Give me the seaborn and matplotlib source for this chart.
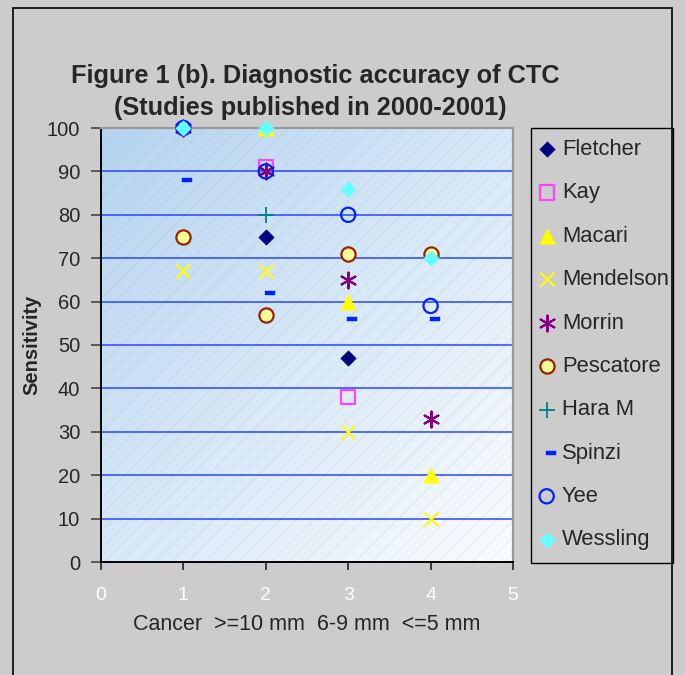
import numpy as np
import pandas as pd
import matplotlib
matplotlib.use("Agg")
import matplotlib.pyplot as plt
import seaborn as sns
from matplotlib.path import Path
from matplotlib.patches import Rectangle

# data (x = size category)
x_pos = [1, 2, 3, 4]
studies = ["Fletcher", "Kay", "Macari", "Mendelson", "Morrin",
           "Pescatore", "Hara M", "Spinzi", "Yee", "Wessling"]
fletcher = [None, 75, 47, None]
kay = [None, 91, 38, None]
macari = [None, 100, 60, 20]
mendelson = [67, 67, 30, 10]
morrin = [100, 90, 65, 33]
pescatore = [75, 57, 71, 71]
hara_m = [None, 80, None, None]
spinzi = [88, 62, 56, 56]
yee = [100, 90, 80, 59]
wessling = [100, 100, 86, 70]
values = [fletcher, kay, macari, mendelson, morrin,
          pescatore, hara_m, spinzi, yee, wessling]

rows = []
for name, vals in zip(studies, values):
    for xv, yv in zip(x_pos, vals):
        if yv is not None:
            rows.append({"study": name, "x": xv, "y": yv})
df = pd.DataFrame(rows)

# Excel-like dash marker (sits a bit right of the point)
dash = Path([(-0.1, -0.22), (0.9, -0.22), (0.9, 0.22), (-0.1, 0.22), (-0.1, -0.22)],
            [Path.MOVETO, Path.LINETO, Path.LINETO, Path.LINETO, Path.CLOSEPOLY])

# marker, size, face, edge, linewidth
styles = {
    "Fletcher": ("D", 60, "#000080", "#000080", 0.5),
    "Kay": ("s", 105, "none", "#ff44ff", 1.6),
    "Macari": ("^", 120, "#ffff00", "#ffff00", 0.5),
    "Mendelson": ("x", 105, None, "#ffff00", 1.5),
    "Morrin": ((6, 2, 0), 130, None, "#800080", 1.5),
    "Pescatore": ("o", 105, "#ffff99", "#992200", 1.6),
    "Hara M": ("+", 130, None, "#008080", 1.3),
    "Spinzi": (dash, 180, "#0022ff", "#0022ff", 0.3),
    "Yee": ("o", 105, "none", "#0022ff", 1.6),
    "Wessling": ("D", 60, "#66ffff", "#66ffff", 0.5),
}

sns.set_style("white")
plt.rcParams["font.family"] = ["Liberation Sans", "DejaVu Sans"]
plt.rcParams["hatch.linewidth"] = 0.6

bg = "#cccccc"
fig = plt.figure(figsize=(6.85, 6.75), dpi=100, facecolor=bg)
ax = fig.add_axes([101 / 685, 1 - 562 / 675, 412 / 685, 434 / 675])

# gradient background of the plot area
gx, gy = np.meshgrid(np.linspace(0, 1, 200), np.linspace(1, 0, 200))
t = np.clip((gx + (1 - gy)) / 2, 0, 1)
c0 = np.array([0.71, 0.83, 0.94])
c1 = np.array([0.98, 0.99, 1.0])
img = c0[None, None, :] * (1 - t[..., None]) + c1[None, None, :] * t[..., None]
ax.imshow(img, extent=[0, 1, 0, 1], transform=ax.transAxes, aspect="auto", zorder=0)
ax.add_patch(Rectangle((0, 0), 1, 1, transform=ax.transAxes, fill=False, lw=0,
                       hatch="//", edgecolor=(0.55, 0.6, 0.7, 0.18), zorder=0.5))

for yv in range(10, 100, 10):
    ax.axhline(yv, color="#2a45ff", lw=1.1, zorder=1)

for name in studies:
    sub = df[df["study"] == name]
    mk, sz, fc, ec, lw = styles[name]
    kw = dict(marker=mk, s=sz, linewidth=lw, edgecolor=ec, label=name, zorder=3)
    if fc is None:
        kw["color"] = ec
    elif fc == "none":
        kw["color"] = ec
        kw["facecolor"] = "none"
    else:
        kw["color"] = fc
    sns.scatterplot(data=sub, x="x", y="y", ax=ax, clip_on=False, **kw)

ax.set_xlim(0, 5)
ax.set_ylim(0, 100)
ax.set_xticks(range(0, 6))
ax.set_yticks(range(0, 101, 10))
ax.tick_params(axis="y", direction="out", length=7, width=1.2, color="#444444",
               labelsize=14.5, pad=8, left=True)
ax.tick_params(axis="x", direction="out", length=6, width=1.2, color="#222222",
               labelsize=14, labelcolor="white", pad=12, bottom=True)
for side in ["left", "bottom"]:
    ax.spines[side].set_color("black")
    ax.spines[side].set_linewidth(1.4)
for side in ["top", "right"]:
    ax.spines[side].set_color("#9a9a9a")
    ax.spines[side].set_linewidth(1.6)

ax.set_xlabel("Cancer  >=10 mm  6-9 mm  <=5 mm", fontsize=15.5, labelpad=7)
ax.set_ylabel("Sensitivity", fontsize=14.5, fontweight="bold", labelpad=4)

fig.text(315 / 685, 1 - 83 / 675, "Figure 1 (b). Diagnostic accuracy of CTC",
         ha="center", va="baseline", fontsize=18.3, fontweight="bold")
fig.text(310 / 685, 1 - 115 / 675, "(Studies published in 2000-2001)",
         ha="center", va="baseline", fontsize=18.3, fontweight="bold")

handles, labels = ax.get_legend_handles_labels()
ax.get_legend().remove()
leg = fig.legend(handles, labels, loc="upper left",
                 bbox_to_anchor=(528 / 685, 1 - 128 / 675), borderaxespad=0,
                 fontsize=15.8, labelspacing=1.02, handlelength=0.7,
                 handletextpad=0.35, borderpad=0.5, scatterpoints=1,
                 frameon=False)

# legend box and outer chart border
fig.add_artist(Rectangle((531 / 685, 1 - 563 / 675), 142 / 685, 435 / 675,
                         transform=fig.transFigure, fill=False, edgecolor="black", lw=1.0))
fig.add_artist(Rectangle((13 / 685, -0.02), 659 / 685, 1 - 8 / 675 + 0.02,
                         transform=fig.transFigure, fill=False, edgecolor="black", lw=1.2))

fig.savefig("out.png", dpi=100, facecolor=bg)
